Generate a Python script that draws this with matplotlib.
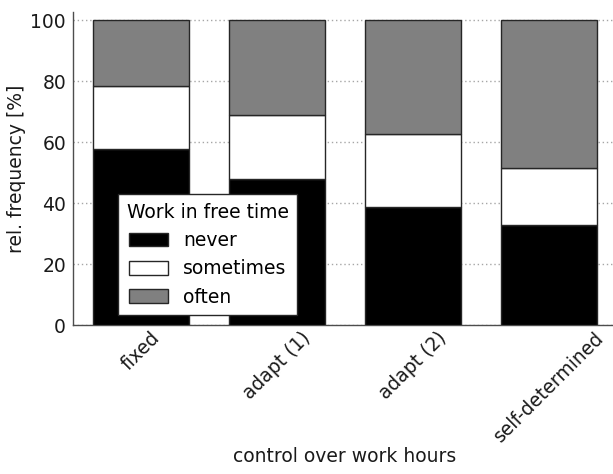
import numpy as np
import matplotlib
matplotlib.use('Agg')
import matplotlib.pyplot as plt

# data
categories = ['fixed', 'adapt (1)', 'adapt (2)', 'self-determined']
never = [57.8, 48.0, 38.7, 32.8]
sometimes = [20.5, 21.0, 24.1, 18.9]
often = [100 - n - s for n, s in zip(never, sometimes)]

plt.rcParams['font.family'] = 'DejaVu Sans'
fig = plt.figure(figsize=(6.13, 4.74), dpi=100)
ax = fig.add_axes([0.119, 0.314, 0.8874, 0.660])

x = np.arange(len(categories))
w = 0.7
kw = dict(width=w, edgecolor='0.15', linewidth=1, zorder=3)
ax.bar(x, never, color='black', label='never', **kw)
ax.bar(x, sometimes, bottom=never, color='white', label='sometimes', **kw)
ax.bar(x, often, bottom=np.add(never, sometimes), color='0.5', label='often', **kw)

ax.set_xlim(-0.5, 3.5)
ax.set_ylim(0, 102.6)
ax.set_yticks(np.arange(0, 101, 20))
ax.set_xticks(x)
ax.set_xticklabels(categories, rotation=45, ha='center', fontsize=13.5, color='0.1')
ax.tick_params(axis='y', labelsize=13.5, labelcolor='0.1', length=0, pad=5)
ax.tick_params(axis='x', length=0, pad=2)
ax.yaxis.grid(True, linestyle=(0, (1, 2)), color='0.65', linewidth=1, zorder=0)
ax.set_axisbelow(True)

for s in ['top', 'right']:
    ax.spines[s].set_visible(False)
for s in ['left', 'bottom']:
    ax.spines[s].set_color('0.3')
    ax.spines[s].set_linewidth(1)

ax.set_ylabel('rel. frequency [%]', fontsize=13.5, color='0.1', labelpad=3)
ax.set_xlabel('control over work hours', fontsize=13.5, color='0.1', labelpad=1)

leg = ax.legend(title='Work in free time', loc='lower left',
                bbox_to_anchor=(0.083, 0.032), borderaxespad=0,
                fontsize=13.5, title_fontsize=13.5, fancybox=False,
                framealpha=1, edgecolor='0.15', handlelength=2.1,
                handleheight=0.75, labelspacing=0.5, borderpad=0.45)
leg.get_frame().set_linewidth(1)
leg.set_zorder(5)

fig.savefig('out.png', dpi=100)
